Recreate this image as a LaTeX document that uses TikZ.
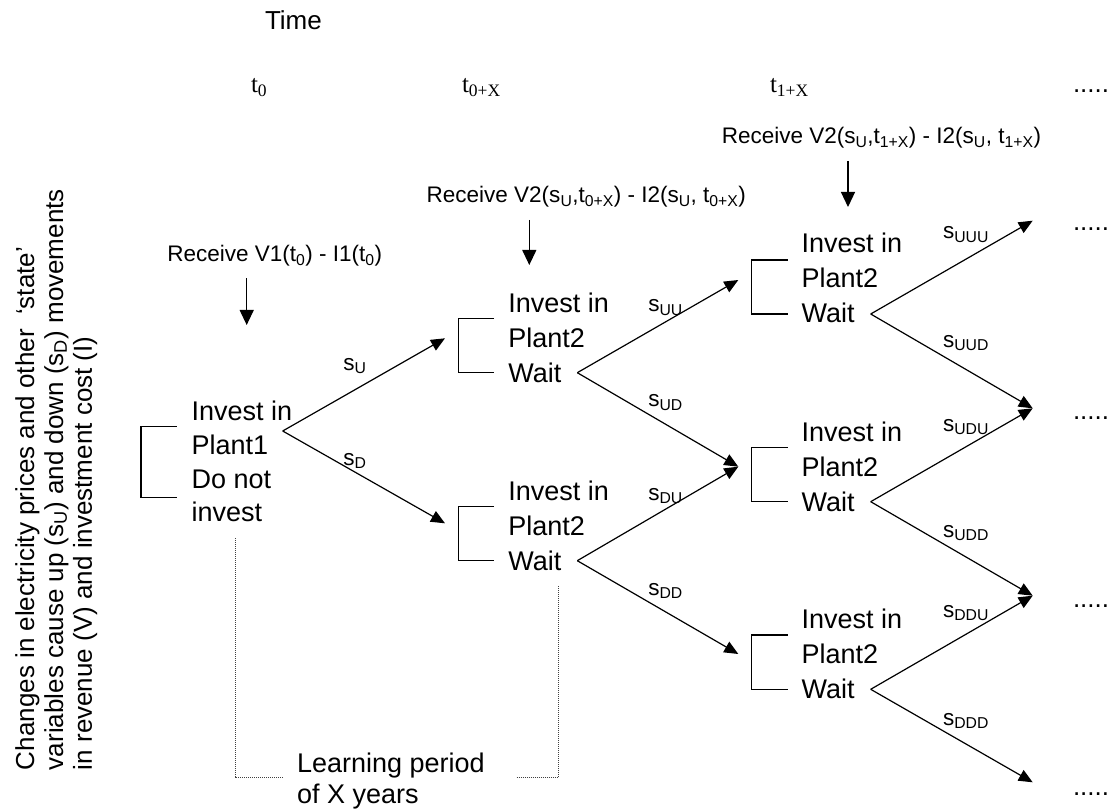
\documentclass[tikz,border=0pt]{standalone}
\usepackage{fontspec}
\setmainfont{Liberation Sans}
\newfontfamily\tms{Liberation Serif}
\usetikzlibrary{arrows.meta}
\newcommand\sub[1]{\textsubscript{#1}}
\begin{document}
\begin{tikzpicture}[x=1pt,y=-1pt,
  every node/.style={inner sep=0pt,outer sep=0pt},
  opt/.style={font=\fontsize{27}{35}\selectfont,anchor=base west},
  opt1/.style={font=\fontsize{27}{33.7}\selectfont,anchor=base west},
  small/.style={font=\fontsize{22.5}{27}\selectfont,anchor=base west},
  timelbl/.style={font=\fontsize{26}{30}\selectfont,anchor=base west},
  side/.style={font=\fontsize{26}{29}\selectfont,anchor=base west,rotate=90},
  tlab/.style={font=\tms\fontsize{25}{29}\selectfont,anchor=base west},
  dots/.style={font=\fontsize{26}{29}\selectfont,anchor=base west},
  lbl/.style={font=\fontsize{22.5}{27}\selectfont,anchor=base west},
  branch/.style={line width=1.2pt,-{Triangle[length=14pt,width=12pt]}},
  recv/.style={line width=1.2pt,-{Triangle[length=15pt,width=14pt]}},
  brk/.style={line width=1.1pt},
  lp/.style={line width=1pt,draw=black!75,dash pattern=on 1pt off 1pt}]
\useasboundingbox (0,0) rectangle (1111,810);

% time axis
\node[timelbl] (time) at (265,30) {Time};
\node[tlab] (tz) at (251,93) {t\sub{0}};
\node[tlab] (tzx) at (462,93) {t\sub{0+X}};
\node[tlab] (tox) at (770,93) {t\sub{1+X}};
\node[dots] (tdots) at (1073,93) {.....};

% side text
\node[side] (sidetext) at (34,770) {\vtop{\hbox{Changes in electricity prices and other \ ‘state’}\hbox{variables cause up (s\sub{U}) and down (s\sub{D}) movements}\hbox{in revenue (V) and investment cost (I)}}};

% receive labels
\node[small] (r1) at (167.3,261.7) {Receive V1(t\sub{0}) - I1(t\sub{0})};
\node[small] (r2) at (426.7,203) {Receive V2(s\sub{U},t\sub{0+X}) - I2(s\sub{U}, t\sub{0+X})};
\node[small] (r3) at (721.8,144) {Receive V2(s\sub{U},t\sub{1+X}) - I2(s\sub{U}, t\sub{1+X})};
\coordinate (r1a) at (246.7,278.3); \coordinate (r1b) at (246.7,325);
\coordinate (r2a) at (529.3,220); \coordinate (r2b) at (529.3,265);
\coordinate (r3a) at (848,161); \coordinate (r3b) at (848,207);
\draw[recv] (r1a) -- (r1b);
\draw[recv] (r2a) -- (r2b);
\draw[recv] (r3a) -- (r3b);

% decision nodes
\node[opt1] (n1) at (191.7,420.7) {\vtop{\hbox{Invest in}\hbox{Plant1}\hbox{Do not}\hbox{invest}}};
\node[opt] (n2u) at (508.3,312.7) {\vtop{\hbox{Invest in}\hbox{Plant2}\hbox{Wait}}};
\node[opt] (n2d) at (508.3,500) {\vtop{\hbox{Invest in}\hbox{Plant2}\hbox{Wait}}};
\node[opt] (n3u) at (801.7,253) {\vtop{\hbox{Invest in}\hbox{Plant2}\hbox{Wait}}};
\node[opt] (n3m) at (801.7,441) {\vtop{\hbox{Invest in}\hbox{Plant2}\hbox{Wait}}};
\node[opt] (n3d) at (801.7,628) {\vtop{\hbox{Invest in}\hbox{Plant2}\hbox{Wait}}};

% brackets
\draw[brk] (176.7,426.7) -- (141,426.7) -- (141,497.3) -- (176.7,497.3);
\draw[brk] (494,318.3) -- (458.3,318.3) -- (458.3,372.7) -- (494,372.7);
\draw[brk] (494,506.7) -- (458.3,506.7) -- (458.3,560.7) -- (494,560.7);
\draw[brk] (787.7,260) -- (751.7,260) -- (751.7,314) -- (787.7,314);
\draw[brk] (787.7,447.4) -- (751.7,447.4) -- (751.7,501.7) -- (787.7,501.7);
\draw[brk] (787.7,635) -- (751.7,635) -- (751.7,689.3) -- (787.7,689.3);

% branch points and tips
\coordinate (p1) at (282.7,431);
\coordinate (p2u) at (577.3,372.7);
\coordinate (p2d) at (577.3,560.7);
\coordinate (p3u) at (870.7,314);
\coordinate (p3m) at (870.7,501.7);
\coordinate (p3d) at (870.7,689.3);
\coordinate (q2u) at (445,338.3);
\coordinate (q2d) at (445,523.3);
\coordinate (q3u) at (738.3,280);
\coordinate (q3m) at (738.3,466.7);
\coordinate (q3d) at (738.3,654);
\coordinate (q4a) at (1032.7,220.7);
\coordinate (q4b) at (1032.7,408.3);
\coordinate (q4c) at (1032.7,595.7);
\coordinate (q4d) at (1032.7,782.3);

\draw[branch] (p1) -- (q2u);
\draw[branch] (p1) -- (q2d);
\draw[branch] (p2u) -- (q3u);
\draw[branch] (p2u) -- (q3m);
\draw[branch] (p2d) -- (q3m);
\draw[branch] (p2d) -- (q3d);
\draw[branch] (p3u) -- (q4a);
\draw[branch] (p3u) -- (q4b);
\draw[branch] (p3m) -- (q4b);
\draw[branch] (p3m) -- (q4c);
\draw[branch] (p3d) -- (q4c);
\draw[branch] (p3d) -- (q4d);

% branch labels
\node[lbl] (lU) at (343.3,370) {s\sub{U}};
\node[lbl] (lD) at (343.3,465) {s\sub{D}};
\node[lbl] (lUU) at (648.3,311.7) {s\sub{UU}};
\node[lbl] (lUD) at (648.3,406.7) {s\sub{UD}};
\node[lbl] (lDU) at (648.3,500) {s\sub{DU}};
\node[lbl] (lDD) at (648.3,595) {s\sub{DD}};
\node[lbl] (lUUU) at (943,239) {s\sub{UUU}};
\node[lbl] (lUUD) at (943,347) {s\sub{UUD}};
\node[lbl] (lUDU) at (943,431) {s\sub{UDU}};
\node[lbl] (lUDD) at (943,537) {s\sub{UDD}};
\node[lbl] (lDDU) at (943,617) {s\sub{DDU}};
\node[lbl] (lDDD) at (943,725) {s\sub{DDD}};

% continuation dots
\node[dots] (d1) at (1073,231) {.....};
\node[dots] (d2) at (1073,419) {.....};
\node[dots] (d3) at (1073,607) {.....};
\node[dots] (d4) at (1073,795) {.....};

% learning period
\node[opt,font=\fontsize{27}{31}\selectfont] (learn) at (297,772) {\vtop{\hbox{Learning period}\hbox{of X years}}};
\draw[lp] (235,538.3) -- (235,777) -- (283.3,777);
\draw[lp] (516.7,777) -- (558.3,777) -- (558.3,585);
\end{tikzpicture}
\end{document}
